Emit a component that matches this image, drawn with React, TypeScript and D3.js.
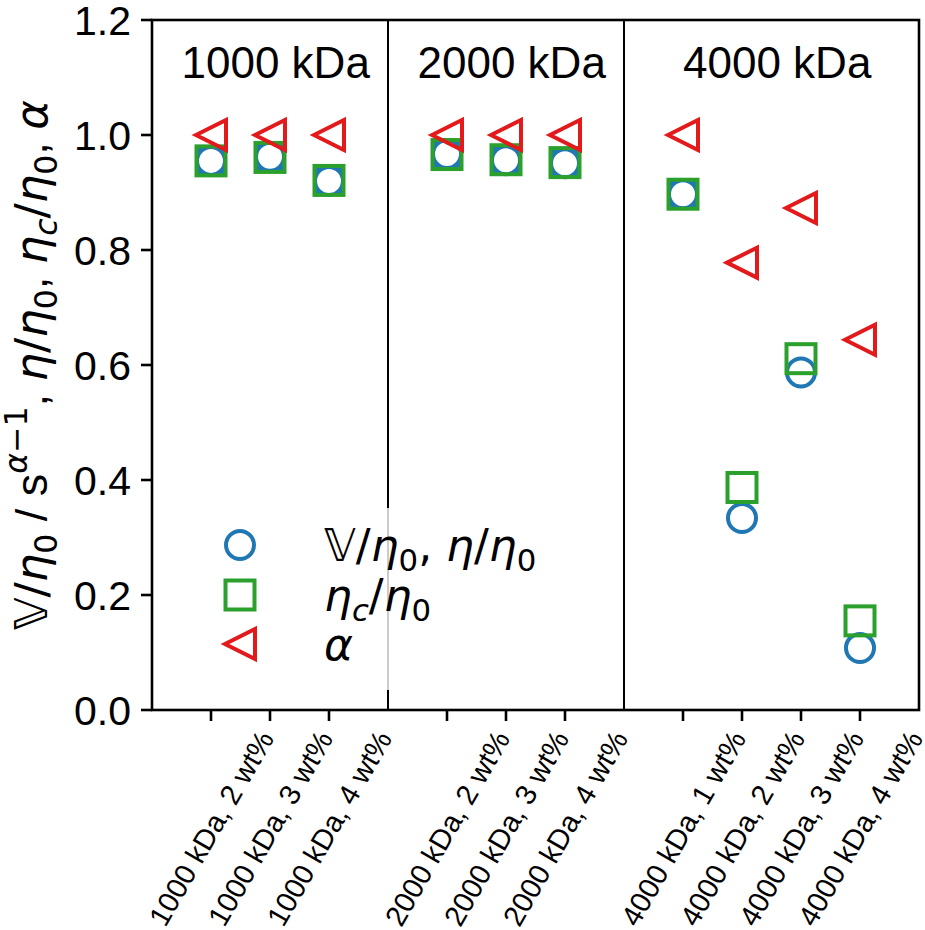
import React, { useRef, useEffect } from 'react';
import * as d3 from 'd3';

// sample labels, grouped by molar mass
const groups = ['1000 kDa', '2000 kDa', '4000 kDa'];
const categories = [
  '1000 kDa, 2 wt%', '1000 kDa, 3 wt%', '1000 kDa, 4 wt%',
  '2000 kDa, 2 wt%', '2000 kDa, 3 wt%', '2000 kDa, 4 wt%',
  '4000 kDa, 1 wt%', '4000 kDa, 2 wt%', '4000 kDa, 3 wt%', '4000 kDa, 4 wt%'
];
const categoryGroup = [0, 0, 0, 1, 1, 1, 2, 2, 2, 2];

// V/eta0 (circles)
const vRatio = [0.955, 0.962, 0.920, 0.967, 0.956, 0.951, 0.897, 0.334, 0.587, 0.108];
// steady eta/eta0 (only measured for some samples)
const etaRatio: (number | null)[] = [0.955, 0.961, 0.921, 0.966, 0.957, 0.952, 0.897, null, null, null];
// eta_c/eta0 (squares)
const etaCRatio = [0.955, 0.961, 0.921, 0.966, 0.957, 0.952, 0.897, 0.387, 0.611, 0.155];
// alpha (triangles)
const alpha = [1.0, 1.0, 1.0, 1.0, 1.0, 1.0, 1.0, 0.778, 0.873, 0.644];

const yTicks = [0, 0.2, 0.4, 0.6, 0.8, 1.0, 1.2];
const titleX = [0.5, 4.5, 9];

const BLUE = '#1f77b4';
const GREEN = '#2ca02c';
const RED = '#e31a1c';
const FONT = '"Liberation Sans", Arial, sans-serif';
const MATH = '"DejaVu Sans", sans-serif';

type Part = { t: string; it?: boolean; sub?: boolean; sup?: boolean; plain?: boolean };

function mathText(
  text: d3.Selection<SVGTextElement, unknown, null, undefined>,
  parts: Part[],
  size: number
) {
  let offset = 0;
  parts.forEach(p => {
    const target = p.sub ? size * 0.22 : p.sup ? -size * 0.45 : 0;
    text
      .append('tspan')
      .attr('dy', target - offset)
      .attr('font-family', p.plain ? FONT : MATH)
      .attr('font-style', p.it ? 'italic' : 'normal')
      .attr('font-size', p.sub || p.sup ? size * 0.7 : size)
      .text(p.t);
    offset = target;
  });
}

const Chart: React.FC = () => {
  const ref = useRef<SVGSVGElement | null>(null);

  useEffect(() => {
    if (!ref.current) return;
    const svg = d3.select(ref.current);
    svg.selectAll('*').remove();

    const left = 152, right = 919, top = 20, bottom = 710;
    const x = d3.scaleLinear().domain([0, 13]).range([left, right]);
    const y = d3.scaleLinear().domain([0, 1.2]).range([bottom, top]);

    const pos = categories.map((_, i) => i + 1 + categoryGroup[i]);
    const dividers = groups.slice(1).map((_, g) => {
      const lastIdx = categoryGroup.lastIndexOf(g);
      return pos[lastIdx] + 1;
    });

    svg.append('rect').attr('width', 925).attr('height', 930).attr('fill', '#fff');

    // group dividers
    svg
      .selectAll('line.div')
      .data(dividers)
      .join('line')
      .attr('x1', d => x(d))
      .attr('x2', d => x(d))
      .attr('y1', top)
      .attr('y2', bottom)
      .attr('stroke', '#000')
      .attr('stroke-width', 2);

    // panel titles
    svg
      .selectAll('text.title')
      .data(groups)
      .join('text')
      .attr('x', (_, i) => x(titleX[i]))
      .attr('y', y(1.1))
      .attr('font-family', FONT)
      .attr('font-size', 44)
      .text(d => d);

    // legend background (semi-transparent, sits over the divider)
    svg
      .append('rect')
      .attr('x', 200)
      .attr('y', 508)
      .attr('width', 350)
      .attr('height', 182)
      .attr('fill', '#fff')
      .attr('fill-opacity', 0.8);

    const sq = 29;
    const tri = (s: number) => `M${-s},0L${s},${-s}L${s},${s}Z`;

    // steady-shear eta/eta0, filled squares
    const etaPts = pos
      .map((p, i) => ({ p, v: etaRatio[i] }))
      .filter(d => d.v !== null) as { p: number; v: number }[];
    svg
      .selectAll('rect.eta')
      .data(etaPts)
      .join('rect')
      .attr('x', d => x(d.p) - sq / 2)
      .attr('y', d => y(d.v) - sq / 2)
      .attr('width', sq)
      .attr('height', sq)
      .attr('fill', BLUE);

    // V/eta0 circles
    svg
      .selectAll('circle.v')
      .data(vRatio)
      .join('circle')
      .attr('cx', (_, i) => x(pos[i]))
      .attr('cy', d => y(d))
      .attr('r', 14)
      .attr('fill', '#fff')
      .attr('stroke', BLUE)
      .attr('stroke-width', 4);

    // eta_c/eta0 squares
    svg
      .selectAll('rect.c')
      .data(etaCRatio)
      .join('rect')
      .attr('x', (_, i) => x(pos[i]) - sq / 2)
      .attr('y', d => y(d) - sq / 2)
      .attr('width', sq)
      .attr('height', sq)
      .attr('fill', 'none')
      .attr('stroke', GREEN)
      .attr('stroke-width', 4);

    // alpha triangles
    svg
      .selectAll('path.a')
      .data(alpha)
      .join('path')
      .attr('transform', (d, i) => `translate(${x(pos[i])},${y(d)})`)
      .attr('d', tri(15))
      .attr('fill', 'none')
      .attr('stroke', RED)
      .attr('stroke-width', 4);

    // axes frame
    svg
      .append('rect')
      .attr('x', left)
      .attr('y', top)
      .attr('width', right - left)
      .attr('height', bottom - top)
      .attr('fill', 'none')
      .attr('stroke', '#000')
      .attr('stroke-width', 2.6);

    // y ticks
    const yAxis = svg.append('g');
    yTicks.forEach(t => {
      yAxis
        .append('line')
        .attr('x1', left - 11)
        .attr('x2', left)
        .attr('y1', y(t))
        .attr('y2', y(t))
        .attr('stroke', '#000')
        .attr('stroke-width', 2.6);
      yAxis
        .append('text')
        .attr('x', left - 21)
        .attr('y', y(t))
        .attr('dy', '0.36em')
        .attr('text-anchor', 'end')
        .attr('font-family', FONT)
        .attr('font-size', 41)
        .text(t.toFixed(1));
    });

    // x ticks
    const xAxis = svg.append('g');
    categories.forEach((c, i) => {
      const px = x(pos[i]);
      xAxis
        .append('line')
        .attr('x1', px)
        .attr('x2', px)
        .attr('y1', bottom)
        .attr('y2', bottom + 11)
        .attr('stroke', '#000')
        .attr('stroke-width', 2.6);
      xAxis
        .append('text')
        .attr('transform', `translate(${px},828) rotate(-60)`)
        .attr('text-anchor', 'middle')
        .attr('dy', '0.36em')
        .attr('font-family', FONT)
        .attr('font-size', 29)
        .text(c);
    });

    // y label
    const ylab = svg
      .append('text')
      .attr('transform', `translate(47,365) rotate(-90)`)
      .attr('text-anchor', 'middle');
    mathText(
      ylab,
      [
        { t: '𝕍' }, { t: '/' }, { t: 'η', it: true }, { t: '0', sub: true },
        { t: ' / s', plain: true }, { t: 'α', it: true, sup: true }, { t: '−1', sup: true },
        { t: ', ', plain: true }, { t: 'η', it: true }, { t: '/' }, { t: 'η', it: true }, { t: '0', sub: true },
        { t: ', ', plain: true }, { t: 'η', it: true }, { t: 'c', it: true, sub: true }, { t: '/' },
        { t: 'η', it: true }, { t: '0', sub: true }, { t: ', ', plain: true }, { t: 'α', it: true }
      ],
      45
    );

    // legend
    const lx = 240;
    const rows = [545, 595, 644];
    svg
      .append('circle')
      .attr('cx', lx)
      .attr('cy', rows[0])
      .attr('r', 14)
      .attr('fill', 'none')
      .attr('stroke', BLUE)
      .attr('stroke-width', 4);
    svg
      .append('rect')
      .attr('x', lx - sq / 2)
      .attr('y', rows[1] - sq / 2)
      .attr('width', sq)
      .attr('height', sq)
      .attr('fill', 'none')
      .attr('stroke', GREEN)
      .attr('stroke-width', 4);
    svg
      .append('path')
      .attr('transform', `translate(${lx},${rows[2]})`)
      .attr('d', tri(15))
      .attr('fill', 'none')
      .attr('stroke', RED)
      .attr('stroke-width', 4);

    const legendParts: Part[][] = [
      [{ t: '𝕍' }, { t: '/' }, { t: 'η', it: true }, { t: '0', sub: true }, { t: ', ' },
        { t: 'η', it: true }, { t: '/' }, { t: 'η', it: true }, { t: '0', sub: true }],
      [{ t: 'η', it: true }, { t: 'c', it: true, sub: true }, { t: '/' }, { t: 'η', it: true }, { t: '0', sub: true }],
      [{ t: 'α', it: true }]
    ];
    legendParts.forEach((parts, i) => {
      const t = svg
        .append('text')
        .attr('x', 324)
        .attr('y', rows[i] + 16);
      mathText(t, parts, 44);
    });
  }, []);

  return (
    <svg
      ref={ref}
      width={925}
      height={930}
      style={{ position: 'absolute', left: 0, top: 0 }}
    />
  );
};

export default function App() {
  return <Chart />;
}
